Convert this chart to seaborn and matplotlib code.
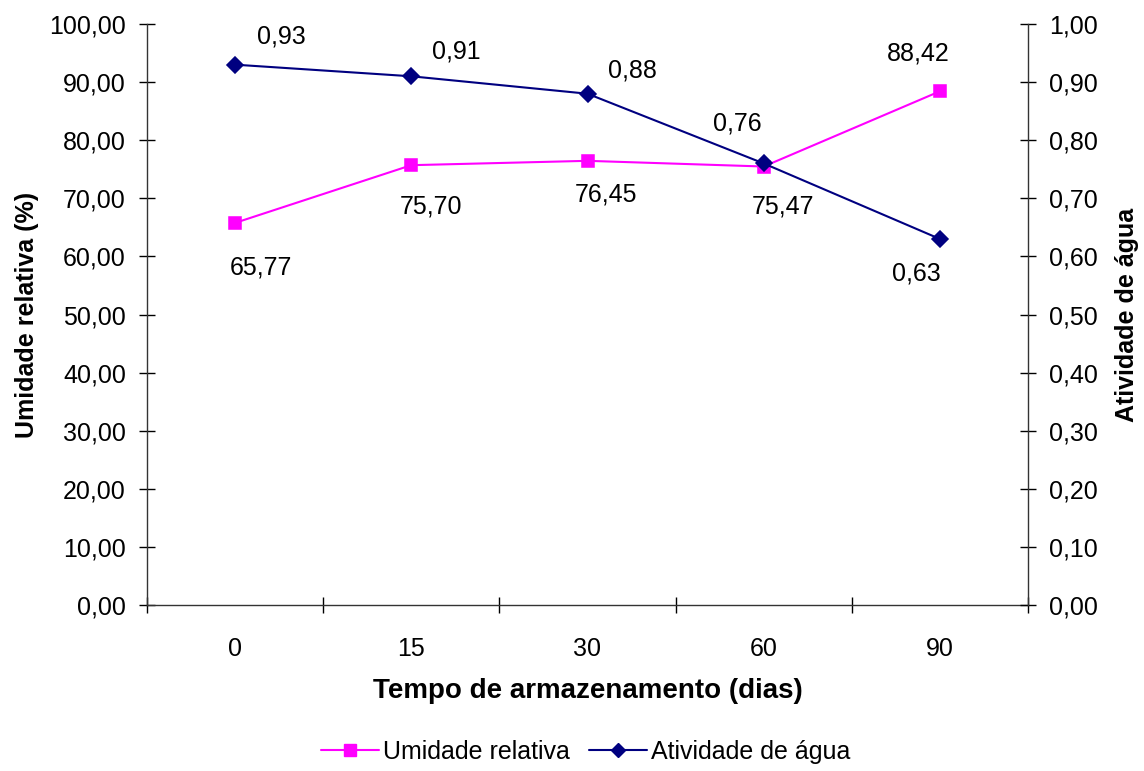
import matplotlib
matplotlib.use("Agg")
import matplotlib.pyplot as plt
import seaborn as sns
import pandas as pd
from matplotlib.lines import Line2D

# Storage time (days) and measured values
dias = ["0", "15", "30", "60", "90"]
umidade_relativa = [65.77, 75.70, 76.45, 75.47, 88.42]
atividade_agua = [0.93, 0.91, 0.88, 0.76, 0.63]

# Label offsets in pixels (dx, dy) for each point's value label
ur_offsets = [(26, -45), (20, -41), (19, -34), (19, -40), (-22, 38)]
aw_offsets = [(46, 28), (45, 25), (45, 23), (-26, 40), (-24, -35)]

sns.set_theme(style="white")
plt.rcParams["font.family"] = ["Liberation Sans", "DejaVu Sans"]
plt.rcParams.update({"text.color": "black", "axes.labelcolor": "black",
                     "xtick.color": "black", "ytick.color": "black"})

C_UR = "#FF00FF"
C_AW = "#000080"
FS = 18

df = pd.DataFrame({"dias": dias, "ur": umidade_relativa, "aw": atividade_agua})

fig = plt.figure(figsize=(11.44, 7.71), dpi=100)
ax = fig.add_axes([147 / 1144, 1 - 605 / 771, (1028 - 147) / 1144, (605 - 24) / 771])
ax2 = ax.twinx()

sns.pointplot(data=df, x="dias", y="ur", color=C_UR, markers="s",
              linestyles="-", markersize=8, linewidth=1.5, ax=ax, errorbar=None)
sns.pointplot(data=df, x="dias", y="aw", color=C_AW, markers="D",
              linestyles="-", markersize=8.5, linewidth=1.5, ax=ax2, errorbar=None)

for i, v in enumerate(umidade_relativa):
    dx, dy = ur_offsets[i]
    ax.annotate(f"{v:.2f}".replace(".", ","), (i, v), xytext=(dx, dy),
                textcoords="offset pixels", ha="center", va="center",
                fontsize=FS, color="black")
for i, v in enumerate(atividade_agua):
    dx, dy = aw_offsets[i]
    ax2.annotate(f"{v:.2f}".replace(".", ","), (i, v), xytext=(dx, dy),
                 textcoords="offset pixels", ha="center", va="center",
                 fontsize=FS, color="black")

# Axes limits and ticks
ax.set_xlim(-0.5, len(dias) - 0.5)
ax.set_ylim(0, 100)
ax2.set_ylim(0, 1)

ax.set_xticks([i - 0.5 for i in range(len(dias) + 1)])
ax.set_xticklabels([])
ax.set_xticks(range(len(dias)), minor=True)
ax.set_xticklabels(dias, minor=True)
ax.tick_params(axis="x", which="major", direction="inout", length=11.5,
               width=1, color="black", bottom=True)
ax.tick_params(axis="x", which="minor", length=0, pad=23, labelsize=FS,
               bottom=True)

ax.set_yticks([i * 10 for i in range(11)])
ax.set_yticklabels([f"{i * 10:.2f}".replace(".", ",") for i in range(11)])
ax.tick_params(axis="y", direction="inout", length=11.5, width=1,
               color="black", left=True, labelsize=FS, pad=9.5)

ax2.set_yticks([i / 10 for i in range(11)])
ax2.set_yticklabels([f"{i / 10:.2f}".replace(".", ",") for i in range(11)])
ax2.tick_params(axis="y", direction="inout", length=11.5, width=1,
                color="black", right=True, labelsize=FS, pad=9.5)

for a in (ax, ax2):
    a.grid(False)
    a.spines["top"].set_visible(False)
    for s in ("left", "right", "bottom"):
        a.spines[s].set_color("#333333")
        a.spines[s].set_linewidth(1)
ax.spines["right"].set_visible(False)
ax2.spines["left"].set_visible(False)
ax2.spines["bottom"].set_visible(False)

ax.set_xlabel("Tempo de armazenamento (dias)", fontsize=20, fontweight="bold",
              labelpad=12, color="black")
ax.set_ylabel("Umidade relativa (%)", fontsize=FS, fontweight="bold",
              labelpad=7, color="black")
ax2.set_ylabel("Atividade de água", fontsize=FS, fontweight="bold",
               labelpad=12, color="black")

handles = [
    Line2D([], [], color=C_UR, marker="s", markersize=8, linewidth=1.5),
    Line2D([], [], color=C_AW, marker="D", markersize=7, linewidth=1.5),
]
fig.legend(handles, ["Umidade relativa", "Atividade de água"], loc="center",
           bbox_to_anchor=(0.512, 1 - 752 / 771), ncol=2, frameon=False,
           fontsize=FS, handlelength=2.3, handletextpad=0.16, columnspacing=0.8)

fig.savefig("out.png", dpi=100, facecolor="white")
